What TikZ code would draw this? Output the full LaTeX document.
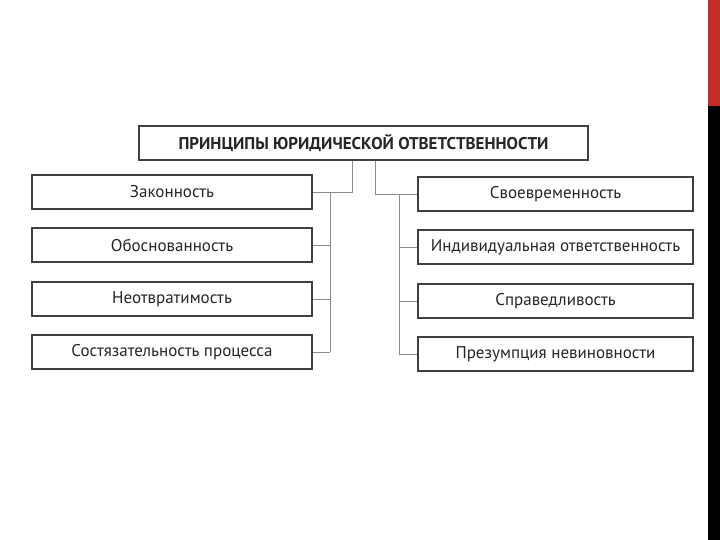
\documentclass[tikz,border=0pt]{standalone}
\usepackage{fontspec}
\setmainfont{PT Sans}
\definecolor{band}{HTML}{C42B2B}
\begin{document}
\begin{tikzpicture}[x=1pt,y=-1pt,
  box/.style={draw=black!75,line width=1.8pt,minimum height=34pt,inner sep=0pt,font=\fontsize{17}{19}\selectfont,text=black!85},
  lbox/.style={box,minimum width=280pt},
  rbox/.style={box,minimum width=275pt},
  conn/.style={draw=black!45,line width=0.7pt}]
\useasboundingbox (0,0) rectangle (720,540);
\fill[white] (0,0) rectangle (720,540);
\fill[band] (708,0) rectangle (720,106);
\fill[black] (708,106) rectangle (720,540);
\node[box,minimum width=449pt,font=\fontsize{17}{19}\selectfont\bfseries] (t) at (363.5,143) {ПРИНЦИПЫ ЮРИДИЧЕСКОЙ ОТВЕТСТВЕННОСТИ};
\node[lbox] (l1) at (172,192) {Законность};
\node[lbox] (l2) at (172,245) {Обоснованность};
\node[lbox] (l3) at (172,299) {Неотвратимость};
\node[lbox] (l4) at (172,352) {Состязательность процесса};
\node[rbox] (r1) at (555.5,194) {Своевременность};
\node[rbox] (r2) at (555.5,247) {Индивидуальная ответственность};
\node[rbox] (r3) at (555.5,301) {Справедливость};
\node[rbox] (r4) at (555.5,354) {Презумпция невиновности};
\coordinate (lt) at (352,0);
\coordinate (rt) at (375,0);
\coordinate (lb) at (330,0);
\coordinate (rb) at (399,0);
\draw[conn] (t.south -| lt) |- (l1.east);
\draw[conn] (lb |- l1.east) -- (lb |- l4.east);
\foreach \i in {2,3,4} \draw[conn] (lb |- l\i.east) -- (l\i.east);
\draw[conn] (t.south -| rt) |- (r1.west);
\draw[conn] (rb |- r1.west) -- (rb |- r4.west);
\foreach \i in {2,3,4} \draw[conn] (rb |- r\i.west) -- (r\i.west);
\end{tikzpicture}
\end{document}
